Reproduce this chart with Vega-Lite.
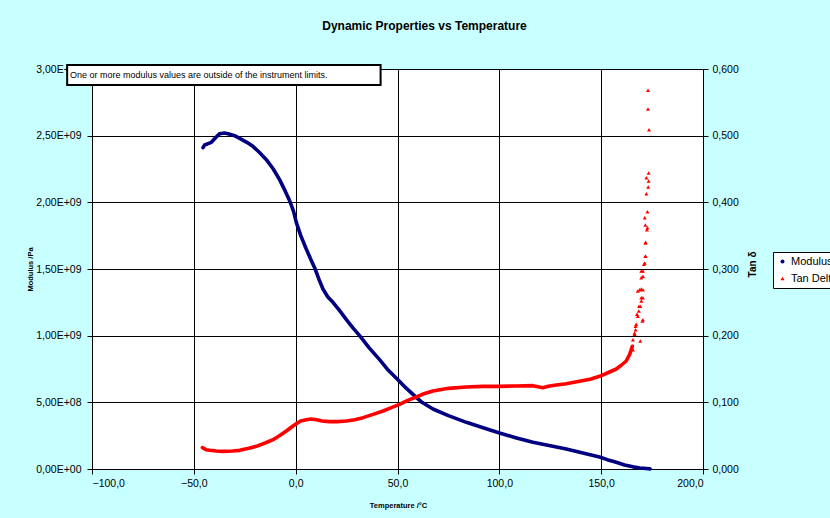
{
  "$schema": "https://vega.github.io/schema/vega-lite/v6.json",
  "width": 611,
  "height": 400,
  "autosize": {"type": "none"},
  "padding": {"left": 92, "top": 69, "right": 127, "bottom": 49},
  "background": "#C8FFFF",
  "title": {
    "text": "Dynamic Properties vs Temperature",
    "font": "Liberation Sans",
    "fontSize": 12,
    "fontWeight": "bold",
    "color": "#000000",
    "anchor": "middle",
    "baseline": "bottom",
    "offset": 19,
    "dx": 27
  },
  "config": {
    "view": {"fill": "white", "stroke": "#999999"},
    "font": "Liberation Sans",
    "axis": {
      "labelFont": "Liberation Sans",
      "labelFontSize": 10.5,
      "labelColor": "#000000",
      "titleFont": "Liberation Sans",
      "titleColor": "#000000",
      "domainColor": "#000000",
      "tickColor": "#000000",
      "gridColor": "#000000",
      "gridOpacity": 1,
      "gridWidth": 1,
      "tickSize": 5
    }
  },
  "datasets": {
    "modulus": [
      {"T": -45.5, "modulus": 2.41e9}, {"T": -44.7, "modulus": 2.43e9}, {"T": -43.0, "modulus": 2.44e9},
      {"T": -41.4, "modulus": 2.45e9}, {"T": -39.0, "modulus": 2.49e9}, {"T": -37.3, "modulus": 2.515e9},
      {"T": -35.0, "modulus": 2.52e9}, {"T": -33.2, "modulus": 2.515e9}, {"T": -30.0, "modulus": 2.50e9},
      {"T": -27.5, "modulus": 2.48e9}, {"T": -24.0, "modulus": 2.45e9}, {"T": -21.0, "modulus": 2.42e9},
      {"T": -17.5, "modulus": 2.37e9}, {"T": -14.4, "modulus": 2.32e9}, {"T": -11.0, "modulus": 2.25e9},
      {"T": -7.9, "modulus": 2.17e9}, {"T": -5.0, "modulus": 2.08e9}, {"T": -2.9, "modulus": 2.01e9},
      {"T": -1.0, "modulus": 1.93e9}, {"T": 0.3, "modulus": 1.85e9}, {"T": 2.5, "modulus": 1.75e9},
      {"T": 5.2, "modulus": 1.65e9}, {"T": 7.5, "modulus": 1.57e9}, {"T": 9.3, "modulus": 1.51e9},
      {"T": 11.5, "modulus": 1.42e9}, {"T": 13.4, "modulus": 1.35e9}, {"T": 15.8, "modulus": 1.29e9},
      {"T": 18.3, "modulus": 1.25e9}, {"T": 21.5, "modulus": 1.19e9}, {"T": 24.9, "modulus": 1.12e9},
      {"T": 28.0, "modulus": 1.06e9}, {"T": 31.4, "modulus": 1.00e9}, {"T": 36.0, "modulus": 0.91e9},
      {"T": 41.2, "modulus": 0.82e9}, {"T": 45.5, "modulus": 0.74e9}, {"T": 50.2, "modulus": 0.67e9},
      {"T": 54.0, "modulus": 0.61e9}, {"T": 57.6, "modulus": 0.56e9}, {"T": 62.0, "modulus": 0.50e9},
      {"T": 67.4, "modulus": 0.45e9}, {"T": 75.0, "modulus": 0.40e9}, {"T": 83.8, "modulus": 0.35e9},
      {"T": 92.0, "modulus": 0.31e9}, {"T": 100.1, "modulus": 0.27e9}, {"T": 108.0, "modulus": 0.235e9},
      {"T": 116.5, "modulus": 0.20e9}, {"T": 125.0, "modulus": 0.175e9}, {"T": 132.9, "modulus": 0.15e9},
      {"T": 141.0, "modulus": 0.12e9}, {"T": 149.2, "modulus": 0.09e9}, {"T": 153.0, "modulus": 0.07e9},
      {"T": 157.4, "modulus": 0.05e9}, {"T": 161.5, "modulus": 0.03e9}, {"T": 165.6, "modulus": 0.016e9},
      {"T": 169.0, "modulus": 0.008e9}, {"T": 172.2, "modulus": 0.004e9}, {"T": 174.0, "modulus": 0.001e9}
    ],
    "tandelta": [
      {"T": -45.8, "tan": 0.032}, {"T": -44.0, "tan": 0.029}, {"T": -42.2, "tan": 0.028},
      {"T": -39.0, "tan": 0.027}, {"T": -35.7, "tan": 0.0265}, {"T": -31.0, "tan": 0.027},
      {"T": -27.5, "tan": 0.028}, {"T": -23.0, "tan": 0.031}, {"T": -19.3, "tan": 0.034},
      {"T": -15.0, "tan": 0.039}, {"T": -11.1, "tan": 0.044}, {"T": -8.0, "tan": 0.050},
      {"T": -4.6, "tan": 0.057}, {"T": -2.0, "tan": 0.063}, {"T": 0.3, "tan": 0.068},
      {"T": 2.5, "tan": 0.072}, {"T": 5.2, "tan": 0.074}, {"T": 7.5, "tan": 0.075},
      {"T": 10.2, "tan": 0.074}, {"T": 13.0, "tan": 0.072}, {"T": 16.7, "tan": 0.071},
      {"T": 20.5, "tan": 0.071}, {"T": 24.9, "tan": 0.072}, {"T": 29.0, "tan": 0.074},
      {"T": 33.1, "tan": 0.077}, {"T": 38.0, "tan": 0.082}, {"T": 42.9, "tan": 0.087},
      {"T": 47.0, "tan": 0.092}, {"T": 51.0, "tan": 0.097}, {"T": 55.0, "tan": 0.103},
      {"T": 59.3, "tan": 0.108}, {"T": 63.0, "tan": 0.113}, {"T": 67.4, "tan": 0.117},
      {"T": 75.0, "tan": 0.121}, {"T": 83.8, "tan": 0.123}, {"T": 92.0, "tan": 0.124},
      {"T": 100.1, "tan": 0.124}, {"T": 108.0, "tan": 0.1245}, {"T": 116.5, "tan": 0.125},
      {"T": 119.0, "tan": 0.1235}, {"T": 121.4, "tan": 0.122}, {"T": 124.0, "tan": 0.124},
      {"T": 128.0, "tan": 0.126}, {"T": 132.9, "tan": 0.128}, {"T": 140.0, "tan": 0.132},
      {"T": 145.0, "tan": 0.135}, {"T": 149.2, "tan": 0.139}, {"T": 153.0, "tan": 0.144},
      {"T": 157.4, "tan": 0.150}, {"T": 160.0, "tan": 0.156}, {"T": 162.3, "tan": 0.162},
      {"T": 164.0, "tan": 0.172}, {"T": 165.3, "tan": 0.184}
    ],
    "tanpoints": [
      {"series": "Tan Delta", "T": 165.6, "tan": 0.179}, {"series": "Tan Delta", "T": 165.6, "tan": 0.194},
      {"series": "Tan Delta", "T": 166.4, "tan": 0.202}, {"series": "Tan Delta", "T": 166.4, "tan": 0.204},
      {"series": "Tan Delta", "T": 169.2, "tan": 0.192}, {"series": "Tan Delta", "T": 166.9, "tan": 0.209},
      {"series": "Tan Delta", "T": 166.9, "tan": 0.214}, {"series": "Tan Delta", "T": 167.2, "tan": 0.217},
      {"series": "Tan Delta", "T": 170.2, "tan": 0.222}, {"series": "Tan Delta", "T": 170.5, "tan": 0.224},
      {"series": "Tan Delta", "T": 167.6, "tan": 0.232}, {"series": "Tan Delta", "T": 168.0, "tan": 0.229},
      {"series": "Tan Delta", "T": 168.5, "tan": 0.237}, {"series": "Tan Delta", "T": 168.6, "tan": 0.244},
      {"series": "Tan Delta", "T": 169.2, "tan": 0.244}, {"series": "Tan Delta", "T": 169.7, "tan": 0.252},
      {"series": "Tan Delta", "T": 169.7, "tan": 0.257}, {"series": "Tan Delta", "T": 170.5, "tan": 0.257},
      {"series": "Tan Delta", "T": 168.0, "tan": 0.267}, {"series": "Tan Delta", "T": 168.9, "tan": 0.269},
      {"series": "Tan Delta", "T": 170.5, "tan": 0.269}, {"series": "Tan Delta", "T": 169.7, "tan": 0.270},
      {"series": "Tan Delta", "T": 169.7, "tan": 0.287}, {"series": "Tan Delta", "T": 170.5, "tan": 0.289},
      {"series": "Tan Delta", "T": 170.5, "tan": 0.297}, {"series": "Tan Delta", "T": 169.7, "tan": 0.297},
      {"series": "Tan Delta", "T": 171.0, "tan": 0.307}, {"series": "Tan Delta", "T": 171.4, "tan": 0.309},
      {"series": "Tan Delta", "T": 171.7, "tan": 0.319}, {"series": "Tan Delta", "T": 171.8, "tan": 0.319},
      {"series": "Tan Delta", "T": 171.8, "tan": 0.339}, {"series": "Tan Delta", "T": 171.8, "tan": 0.340},
      {"series": "Tan Delta", "T": 172.5, "tan": 0.359}, {"series": "Tan Delta", "T": 172.7, "tan": 0.362},
      {"series": "Tan Delta", "T": 171.7, "tan": 0.366}, {"series": "Tan Delta", "T": 171.4, "tan": 0.377},
      {"series": "Tan Delta", "T": 172.7, "tan": 0.386}, {"series": "Tan Delta", "T": 172.2, "tan": 0.413},
      {"series": "Tan Delta", "T": 173.1, "tan": 0.423}, {"series": "Tan Delta", "T": 173.3, "tan": 0.432},
      {"series": "Tan Delta", "T": 172.2, "tan": 0.437}, {"series": "Tan Delta", "T": 173.3, "tan": 0.444},
      {"series": "Tan Delta", "T": 173.5, "tan": 0.509}, {"series": "Tan Delta", "T": 173.0, "tan": 0.540},
      {"series": "Tan Delta", "T": 173.0, "tan": 0.568}
    ]
  },
  "layer": [
    {
      "layer": [
        {
          "data": {"name": "modulus"},
          "mark": {"type": "line", "color": "#000080", "strokeWidth": 3.6, "strokeCap": "round", "strokeJoin": "round"},
          "encoding": {
            "x": {
              "field": "T",
              "type": "quantitative",
              "scale": {"domain": [-100, 200], "nice": false, "zero": false},
              "axis": {
                "values": [-100, -50, 0, 50, 100, 150, 200],
                "labelExpr": "replace(format(datum.value, '.1f'), '.', ',')",
                "labelPadding": 4,
                "title": "Temperature /°C",
                "titleFontSize": 7.5,
                "titleFontWeight": "bold",
                "titleBaseline": "middle",
                "titleY": 36,
                "titleX": 306,
                "grid": true
              }
            },
            "y": {
              "field": "modulus",
              "type": "quantitative",
              "scale": {"domain": [0, 3000000000], "nice": false},
              "axis": {
                "values": [0, 500000000, 1000000000, 1500000000, 2000000000, 2500000000, 3000000000],
                "labelExpr": "datum.value == 0 ? '0,00E+00' : (datum.value < 1000000000 ? replace(format(datum.value / 100000000, '.2f'), '.', ',') + 'E+08' : replace(format(datum.value / 1000000000, '.2f'), '.', ',') + 'E+09')",
                "labelPadding": 6,
                "title": "Modulus /Pa",
                "titleFontSize": 7.5,
                "titleFontWeight": "bold",
                "titleAngle": -90,
                "titleAlign": "center",
                "titleBaseline": "middle",
                "titleX": -62,
                "titleY": 200,
                "grid": true
              }
            }
          }
        },
        {
          "data": {"values": [{}]},
          "mark": {"type": "rect", "fill": "white", "stroke": "black", "strokeWidth": 2, "clip": false},
          "encoding": {
            "x": {"datum": -112.2, "type": "quantitative"},
            "x2": {"datum": 41.7},
            "y": {"datum": 3030000000, "type": "quantitative"},
            "y2": {"datum": 2880000000}
          }
        },
        {
          "data": {"values": [{}]},
          "mark": {
            "type": "text",
            "text": "One or more modulus values are outside of the instrument limits.",
            "font": "Liberation Sans",
            "fontSize": 9,
            "color": "#000000",
            "align": "left",
            "baseline": "middle",
            "clip": false
          },
          "encoding": {
            "x": {"datum": -110.8, "type": "quantitative"},
            "y": {"datum": 2955000000, "type": "quantitative"}
          }
        }
      ]
    },
    {
      "layer": [
        {
          "data": {"name": "tandelta"},
          "mark": {"type": "line", "color": "#FF0000", "strokeWidth": 3.6, "strokeCap": "round", "strokeJoin": "round"},
          "encoding": {
            "x": {"field": "T", "type": "quantitative"},
            "y": {
              "field": "tan",
              "type": "quantitative",
              "scale": {"domain": [0, 0.6], "nice": false},
              "axis": {
                "orient": "right",
                "values": [0, 0.1, 0.2, 0.3, 0.4, 0.5, 0.6],
                "labelExpr": "replace(format(datum.value, '.3f'), '.', ',')",
                "labelPadding": 4,
                "grid": false,
                "title": "Tan δ",
                "titleFontSize": 10,
                "titleFontWeight": "bold",
                "titleAngle": -90,
                "titleAlign": "center",
                "titleBaseline": "middle",
                "titleX": 49,
                "titleY": 195
              }
            }
          }
        },
        {
          "data": {"name": "tanpoints"},
          "mark": {"type": "point", "filled": true, "size": 16, "opacity": 1},
          "encoding": {
            "x": {"field": "T", "type": "quantitative"},
            "y": {"field": "tan", "type": "quantitative"},
            "color": {
              "field": "series",
              "type": "nominal",
              "scale": {"domain": ["Modulus", "Tan Delta"], "range": ["#000080", "#FF0000"]},
              "legend": {
                "orient": "none",
                "legendX": 681,
                "legendY": 183,
                "title": null,
                "fillColor": "white",
                "strokeColor": "black",
                "padding": 4,
                "rowPadding": 5,
                "labelFont": "Liberation Sans",
                "labelFontSize": 11,
                "labelColor": "#000000",
                "labelOffset": 3,
                "symbolSize": 16
              }
            },
            "shape": {
              "field": "series",
              "type": "nominal",
              "scale": {"domain": ["Modulus", "Tan Delta"], "range": ["circle", "triangle-up"]}
            }
          }
        }
      ]
    }
  ],
  "resolve": {"scale": {"y": "independent"}}
}
